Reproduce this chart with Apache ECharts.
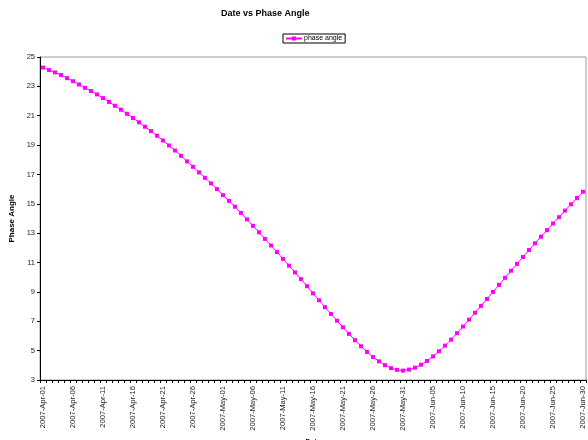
<!DOCTYPE html>
<html>
<head>
<meta charset="utf-8">
<script src="https://cdn.jsdelivr.net/npm/echarts@6/dist/echarts.min.js"></script>
<style>
html,body{margin:0;padding:0;background:#fff;}
#chart{width:588px;height:440px;}
</style>
</head>
<body>
<div id="chart"></div>
<script>
var titleText = 'Date vs Phase Angle';
var seriesName = 'phase angle';
var xName = 'Date';
var yName = 'Phase Angle';

var aprDays = ['01','02','03','04','05','06','07','08','09','10','11','12','13','14','15','16','17','18','19','20','21','22','23','24','25','26','27','28','29','30'];
var mayDays = ['01','02','03','04','05','06','07','08','09','10','11','12','13','14','15','16','17','18','19','20','21','22','23','24','25','26','27','28','29','30','31'];
var junDays = ['01','02','03','04','05','06','07','08','09','10','11','12','13','14','15','16','17','18','19','20','21','22','23','24','25','26','27','28','29','30'];

var categories = []
  .concat(aprDays.map(function(d){return '2007-Apr-' + d;}))
  .concat(mayDays.map(function(d){return '2007-May-' + d;}))
  .concat(junDays.map(function(d){return '2007-Jun-' + d;}));

var phaseAngle = [
  24.28, 24.11, 23.95, 23.77, 23.56, 23.35, 23.13, 22.90, 22.68, 22.45,
  22.20, 21.94, 21.68, 21.41, 21.13, 20.84, 20.55, 20.25, 19.95, 19.64,
  19.31, 18.97, 18.63, 18.27, 17.89, 17.52, 17.14, 16.77, 16.39, 16.00,
  15.59, 15.20, 14.80, 14.38, 13.94, 13.50, 13.06, 12.61, 12.16, 11.71,
  11.25, 10.79, 10.33, 9.87, 9.39, 8.90, 8.43, 7.96, 7.50, 7.04,
  6.59, 6.14, 5.71, 5.30, 4.91, 4.56, 4.27, 4.01, 3.81, 3.69,
  3.64, 3.71, 3.84, 4.04, 4.30, 4.61, 4.96, 5.34, 5.75, 6.19,
  6.64, 7.11, 7.58, 8.05, 8.52, 9.00, 9.48, 9.96, 10.44, 10.91,
  11.38, 11.85, 12.31, 12.76, 13.21, 13.66, 14.09, 14.54, 14.97, 15.39,
  15.82
];

var yMin = 3, yMax = 25, yStep = 2;

var chart = echarts.init(document.getElementById('chart'), null, {renderer: 'canvas'});
var font = 'Liberation Sans, Arial, sans-serif';
chart.setOption({
  animation: false,
  backgroundColor: '#ffffff',
  textStyle: {fontFamily: font},
  title: {
    text: titleText,
    left: 221, top: 9, padding: 0,
    textStyle: {fontSize: 9, fontWeight: 'bold', color: '#000', fontFamily: font}
  },
  legend: {
    data: [seriesName],
    left: 283, top: 34,
    padding: [1, 3, 1, 2],
    borderColor: '#000', borderWidth: 1,
    itemWidth: 16, itemHeight: 5, itemGap: 2,
    textStyle: {fontSize: 7, color: '#000', fontFamily: font, padding: [0,0,0,-3]}
  },
  grid: {
    left: 40, right: 2, top: 57, bottom: 60,
    containLabel: false,
    outerBoundsMode: 'none',
    show: true, borderColor: '#9a9a9a', borderWidth: 1, backgroundColor: '#fff'
  },
  xAxis: {
    type: 'category',
    data: categories,
    boundaryGap: true,
    name: xName,
    nameLocation: 'middle',
    nameGap: 58,
    nameTextStyle: {fontSize: 7, fontWeight: 'bold', color: '#000', fontFamily: font},
    axisLine: {lineStyle: {color: '#000', width: 1}},
    axisTick: {show: true, interval: 0, length: 3, lineStyle: {color: '#000'}},
    axisLabel: {interval: 4, rotate: 90, fontSize: 7.6, color: '#222', margin: 6, fontFamily: font},
    splitLine: {show: false}
  },
  yAxis: {
    type: 'value',
    min: yMin, max: yMax, interval: yStep,
    name: yName,
    nameLocation: 'middle',
    nameGap: 17,
    nameRotate: 90,
    nameTextStyle: {fontSize: 8, fontWeight: 'bold', color: '#000', fontFamily: font},
    axisLine: {show: true, lineStyle: {color: '#000', width: 1}},
    axisTick: {show: true, length: 3, lineStyle: {color: '#000'}},
    axisLabel: {fontSize: 7.5, color: '#222', margin: 5, fontFamily: font},
    splitLine: {show: false}
  },
  series: [{
    name: seriesName,
    type: 'line',
    data: phaseAngle,
    color: '#ff00ff',
    symbol: 'rect',
    symbolSize: 4,
    showSymbol: true,
    showAllSymbol: true,
    lineStyle: {color: '#ff00ff', width: 1},
    itemStyle: {color: '#ff00ff'}
  }]
});
</script>
</body>
</html>
